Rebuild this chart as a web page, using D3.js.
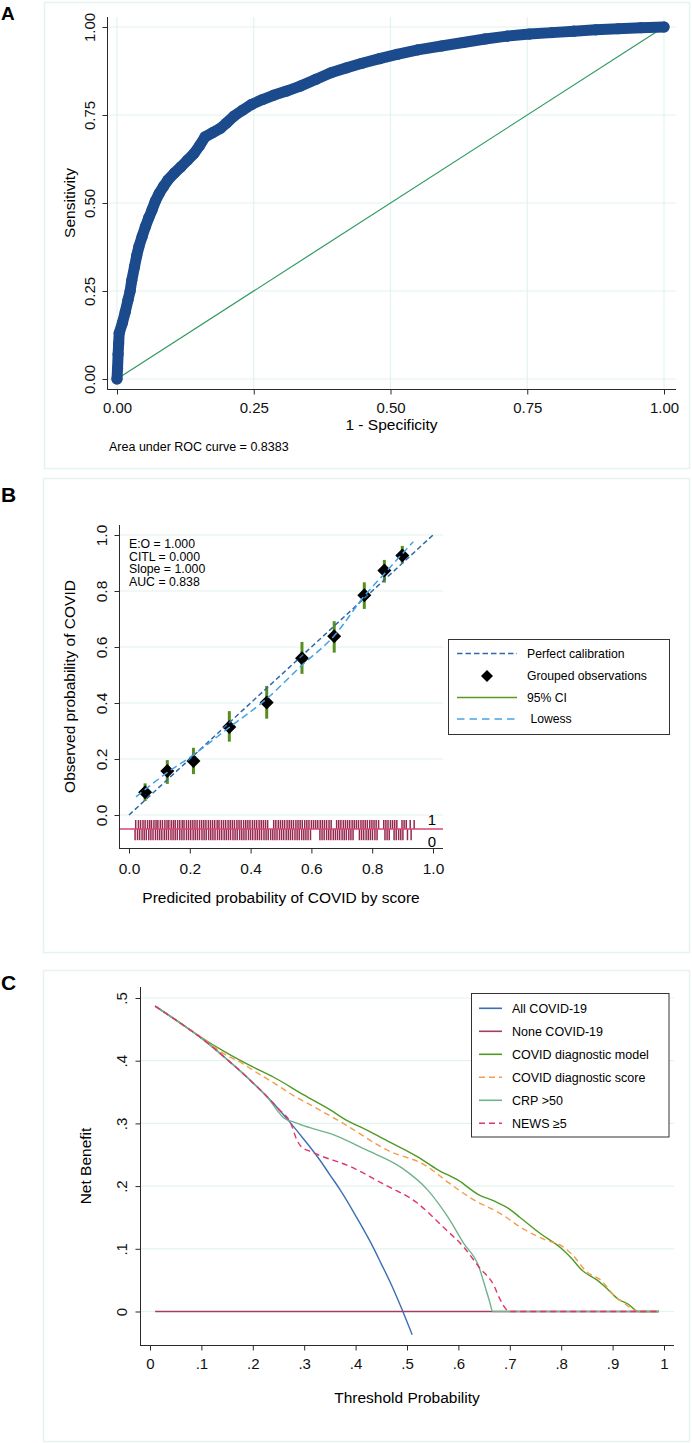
<!DOCTYPE html>
<html><head><meta charset="utf-8">
<script src="https://cdn.jsdelivr.net/npm/d3@7"></script>
<style>
body{margin:0;background:#fff}
svg{display:block;font-family:"Liberation Sans",Arial,Helvetica,sans-serif}
</style>
</head><body>
<svg id="c" width="692" height="1443"></svg>
<script>
// ---------------- DATA ----------------
// Panel A: ROC curve
const rocFPR = [0,0.001,0.002,0.003,0.004,0.010,0.015,0.020,0.024,0.027,0.032,0.036,0.040,0.046,0.052,0.058,0.064,0.070,0.077,0.085,0.093,0.105,0.117,0.129,0.141,0.151,0.161,0.175,0.189,0.200,0.214,0.230,0.246,0.266,0.286,0.310,0.335,0.363,0.391,0.420,0.448,0.480,0.512,0.550,0.593,0.633,0.673,0.713,0.754,0.795,0.835,0.875,0.916,0.958,1.0];
const rocTPR = [0,0.03,0.07,0.10,0.13,0.16,0.19,0.224,0.25,0.28,0.319,0.35,0.376,0.405,0.433,0.458,0.48,0.505,0.527,0.547,0.565,0.585,0.603,0.622,0.641,0.663,0.688,0.700,0.712,0.727,0.747,0.764,0.780,0.794,0.806,0.818,0.832,0.851,0.870,0.884,0.897,0.910,0.922,0.935,0.946,0.956,0.966,0.974,0.980,0.984,0.988,0.992,0.995,0.998,1.0];
const rocTicks = [0,0.25,0.5,0.75,1];
const aucLabel = "Area under ROC curve = 0.8383";

// Panel B: calibration
const calTicks = [0,0.2,0.4,0.6,0.8,1];
const groupPred = [0.053,0.126,0.212,0.330,0.453,0.569,0.675,0.774,0.840,0.899];
const groupObs  = [0.081,0.157,0.193,0.314,0.402,0.560,0.638,0.785,0.873,0.927];
const ciLow     = [0.050,0.111,0.146,0.262,0.344,0.504,0.580,0.736,0.830,0.899];
const ciHigh    = [0.113,0.196,0.240,0.371,0.461,0.618,0.692,0.831,0.911,0.961];
const lowessX   = [0.023,0.126,0.212,0.330,0.453,0.569,0.675,0.774,0.840,0.935];
const lowessY   = [0.065,0.152,0.215,0.313,0.415,0.535,0.640,0.782,0.862,0.976];
const perfectX  = [0,1];
const perfectY  = [0,1];
const calStats  = ["E:O = 1.000","CITL = 0.000","Slope = 1.000","AUC = 0.838"];
const rugOne = [0.022,0.031,0.038,0.046,0.053,0.061,0.068,0.074,0.082,0.089,0.095,0.103,0.110,0.118,0.125,0.131,0.139,0.146,0.152,0.160,0.167,0.175,0.181,0.189,0.196,0.203,0.210,0.217,0.224,0.232,0.239,0.246,0.253,0.261,0.268,0.275,0.282,0.290,0.296,0.304,0.311,0.318,0.326,0.333,0.340,0.347,0.355,0.362,0.369,0.377,0.384,0.391,0.398,0.406,0.413,0.420,0.428,0.435,0.442,0.449,0.456,0.476,0.483,0.491,0.498,0.505,0.512,0.520,0.527,0.534,0.541,0.549,0.556,0.563,0.570,0.578,0.585,0.592,0.600,0.607,0.614,0.621,0.629,0.636,0.643,0.650,0.658,0.665,0.683,0.690,0.697,0.705,0.712,0.719,0.726,0.734,0.741,0.748,0.755,0.763,0.770,0.777,0.784,0.792,0.799,0.806,0.813,0.821,0.838,0.845,0.852,0.860,0.867,0.874,0.881,0.898,0.905,0.912,0.925,0.938];
const rugZero = [0.020,0.028,0.035,0.043,0.050,0.057,0.065,0.072,0.079,0.087,0.094,0.101,0.108,0.116,0.123,0.130,0.138,0.145,0.152,0.159,0.167,0.174,0.181,0.189,0.196,0.203,0.211,0.218,0.225,0.232,0.240,0.247,0.254,0.262,0.269,0.276,0.283,0.291,0.298,0.305,0.313,0.320,0.327,0.334,0.342,0.349,0.356,0.364,0.371,0.378,0.385,0.393,0.400,0.407,0.415,0.422,0.429,0.436,0.444,0.451,0.458,0.466,0.473,0.480,0.487,0.495,0.502,0.509,0.517,0.524,0.531,0.538,0.546,0.553,0.560,0.568,0.575,0.582,0.589,0.597,0.628,0.635,0.642,0.650,0.657,0.664,0.672,0.679,0.686,0.693,0.701,0.708,0.715,0.723,0.730,0.737,0.758,0.765,0.772,0.780,0.787,0.794,0.801,0.809,0.816,0.842,0.849,0.856,0.872,0.879,0.887,0.894,0.901,0.916,0.928];
const calLegend = ["Perfect calibration","Grouped observations","95% CI"," Lowess"];

// Panel C: decision curve
const dcaXTicks = [0,0.1,0.2,0.3,0.4,0.5,0.6,0.7,0.8,0.9,1];
const dcaYTicks = [0,0.1,0.2,0.3,0.4,0.5];
const allX   = [0.01,0.05,0.10,0.15,0.20,0.25,0.27,0.30,0.33,0.35,0.37,0.40,0.43,0.45,0.47,0.49,0.51];
const allY   = [0.487,0.465,0.436,0.402,0.365,0.323,0.304,0.274,0.242,0.218,0.194,0.153,0.109,0.076,0.042,0.004,-0.037];
const noneX  = [0.01,0.99];
const noneY  = [0,0];
const modelX = [0.01,0.05,0.10,0.15,0.20,0.24,0.30,0.35,0.38,0.42,0.46,0.52,0.56,0.60,0.64,0.67,0.70,0.72,0.76,0.80,0.82,0.84,0.87,0.89,0.91,0.93,0.95,0.99];
const modelY = [0.487,0.465,0.437,0.412,0.390,0.374,0.345,0.322,0.306,0.290,0.273,0.247,0.226,0.209,0.186,0.176,0.163,0.150,0.124,0.101,0.085,0.066,0.050,0.036,0.020,0.012,0,0];
const scoreX = [0.01,0.05,0.10,0.15,0.175,0.20,0.24,0.28,0.32,0.38,0.46,0.54,0.58,0.63,0.68,0.73,0.77,0.80,0.82,0.85,0.88,0.90,0.92,0.95,0.99];
const scoreY = [0.487,0.465,0.437,0.408,0.398,0.385,0.365,0.344,0.326,0.298,0.258,0.231,0.206,0.178,0.157,0.130,0.114,0.105,0.092,0.063,0.048,0.028,0.015,0,0];
const crpX   = [0.01,0.05,0.10,0.15,0.20,0.235,0.25,0.26,0.28,0.30,0.36,0.42,0.49,0.54,0.58,0.61,0.64,0.65,0.66,0.667,0.99];
const crpY   = [0.487,0.465,0.436,0.402,0.365,0.335,0.318,0.309,0.302,0.296,0.281,0.258,0.229,0.194,0.150,0.109,0.071,0.045,0.018,0,0];
const newsX  = [0.01,0.05,0.10,0.15,0.20,0.25,0.275,0.285,0.295,0.31,0.33,0.39,0.45,0.52,0.57,0.61,0.64,0.67,0.68,0.70,0.99];
const newsY  = [0.487,0.465,0.436,0.402,0.365,0.323,0.298,0.275,0.262,0.256,0.249,0.231,0.205,0.173,0.135,0.103,0.071,0.040,0.021,0,0];
const dcaNames = ["All COVID-19","None COVID-19","COVID diagnostic model","COVID diagnostic score","CRP >50","NEWS \u22655"];

// ---------------- DRAWING ----------------
const svg = d3.select("#c");
const GRID = "#e3f3ee", FRAME = "#e6f4f0", AXIS = "#2a2a2a";

[[44.5,2.5,645,466],[43.5,478.5,646,474],[43.5,970.5,646,471]].forEach(r=>{
  svg.append("rect").attr("x",r[0]).attr("y",r[1]).attr("width",r[2]).attr("height",r[3])
    .attr("fill","none").attr("stroke",FRAME).attr("stroke-width",1.5);
});
[["A",1,20,19],["B",1,502,21],["C",1,990,21]].forEach(t=>{
  svg.append("text").attr("x",t[1]).attr("y",t[2]).attr("font-size",t[3]).attr("font-weight","bold").text(t[0]);
});

function xAxis(g, scale, ticks, fmt, y, x0, x1, pad, fs){
  g.append("line").attr("x1",x0).attr("x2",x1).attr("y1",y+0.5).attr("y2",y+0.5).attr("stroke",AXIS);
  const ax = g.append("g").attr("transform",`translate(0,${y+0.5})`)
    .call(d3.axisBottom(scale).tickValues(ticks).tickSize(5).tickPadding(pad).tickFormat(fmt));
  ax.select(".domain").remove();
  ax.selectAll("line").attr("stroke",AXIS);
  ax.selectAll("text").attr("font-size",fs).attr("fill","#111");
  ax.attr("font-family",null);
}
function yAxis(g, scale, ticks, fmt, x, y0, y1, off, fs){
  g.append("line").attr("x1",x+0.5).attr("x2",x+0.5).attr("y1",y0).attr("y2",y1).attr("stroke",AXIS);
  const ax = g.append("g").attr("transform",`translate(${x+0.5},0)`)
    .call(d3.axisLeft(scale).tickValues(ticks).tickSize(5).tickFormat(fmt));
  ax.select(".domain").remove();
  ax.selectAll("line").attr("stroke",AXIS);
  ax.selectAll("text").attr("font-size",fs).attr("fill","#111")
    .attr("transform","rotate(-90)").attr("x",0).attr("y",-off).attr("dy",0)
    .attr("text-anchor","middle");
  ax.attr("font-family",null);
}
function hGrid(g, scale, ticks, x0, x1){
  g.selectAll(null).data(ticks).join("line")
    .attr("x1",x0).attr("x2",x1).attr("y1",d=>scale(d)).attr("y2",d=>scale(d))
    .attr("stroke",GRID).attr("stroke-width",1.2);
}

// ===== Panel A =====
{
  const g = svg.append("g");
  const x = d3.scaleLinear([0,1],[117,664]);
  const y = d3.scaleLinear([0,1],[379,27]);
  const L=107, R=676, T=17, B=389;
  hGrid(g, y, rocTicks, L, R);
  g.selectAll(null).data(rocTicks).join("line")
    .attr("x1",d=>x(d)).attr("x2",d=>x(d)).attr("y1",T).attr("y2",B)
    .attr("stroke",GRID).attr("stroke-width",1.2);
  g.append("line").attr("x1",x(0)).attr("y1",y(0)).attr("x2",x(1)).attr("y2",y(1))
    .attr("stroke","#2e9a62").attr("stroke-width",1.2);
  const pts = rocFPR.map((f,i)=>[f,rocTPR[i]]);
  const line = d3.line().x(d=>x(d[0])).y(d=>y(d[1]));
  g.append("path").attr("d",line(pts)).attr("fill","none").attr("stroke","#1b4b8d")
    .attr("stroke-width",11).attr("stroke-linejoin","round").attr("stroke-linecap","round");
  g.selectAll(null).data(pts).join("circle").attr("cx",d=>x(d[0])).attr("cy",d=>y(d[1]))
    .attr("r",5.6).attr("fill","#1b4b8d");
  xAxis(g, x, rocTicks, d3.format(".2f"), B, L, R, 8, 15);
  yAxis(g, y, rocTicks, d3.format(".2f"), L, T, B+0.5, 13, 15);
  g.append("text").attr("x",(L+R)/2).attr("y",430).attr("text-anchor","middle").attr("font-size",15.5).text("1 - Specificity");
  g.append("text").attr("transform",`translate(75,${(T+B)/2}) rotate(-90)`).attr("text-anchor","middle").attr("font-size",15.5).text("Sensitivity");
  g.append("text").attr("x",109).attr("y",450.5).attr("font-size",12.5).text(aucLabel);
}

// ===== Panel B =====
{
  const g = svg.append("g");
  const x = d3.scaleLinear([0,1],[129,433]);
  const y = d3.scaleLinear([0,1],[815,535]);
  const L=119, R=443, T=525, B=848;
  hGrid(g, y, calTicks, L, R);
  const rugBase = -0.05, rugUp = -0.018, rugDown = -0.09;
  g.selectAll(null).data(rugOne).join("line")
    .attr("x1",d=>x(d)).attr("x2",d=>x(d)).attr("y1",y(rugBase)).attr("y2",y(rugUp))
    .attr("stroke","#962850").attr("stroke-width",1.5);
  g.selectAll(null).data(rugZero).join("line")
    .attr("x1",d=>x(d)).attr("x2",d=>x(d)).attr("y1",y(rugBase)).attr("y2",y(rugDown))
    .attr("stroke","#962850").attr("stroke-width",1.5);
  g.append("line").attr("x1",L).attr("x2",R).attr("y1",y(rugBase)).attr("y2",y(rugBase))
    .attr("stroke","#d8456f").attr("stroke-width",1.4);
  g.append("text").attr("x",432).attr("y",825).attr("text-anchor","middle").attr("font-size",15).text("1");
  g.append("text").attr("x",432).attr("y",846.5).attr("text-anchor","middle").attr("font-size",15).text("0");
  g.selectAll(null).data(groupPred).join("line")
    .attr("x1",d=>x(d)).attr("x2",d=>x(d)).attr("y1",(d,i)=>y(ciLow[i])).attr("y2",(d,i)=>y(ciHigh[i]))
    .attr("stroke","#578f1e").attr("stroke-width",3);
  const dia = r=>`M0,${-r}L${r},0L0,${r}L${-r},0Z`;
  g.selectAll(null).data(groupPred).join("path")
    .attr("d",dia(7)).attr("transform",(d,i)=>`translate(${x(d)},${y(groupObs[i])})`).attr("fill","#000");
  const ln = d3.line().x(d=>x(d[0])).y(d=>y(d[1]));
  g.append("path").attr("d",ln(perfectX.map((v,i)=>[v,perfectY[i]]))).attr("fill","none")
    .attr("stroke","#2f69a6").attr("stroke-width",1.5).attr("stroke-dasharray","5,3");
  const lw = d3.line().x(d=>x(d[0])).y(d=>y(d[1])).curve(d3.curveMonotoneX);
  g.append("path").attr("d",lw(lowessX.map((v,i)=>[v,lowessY[i]]))).attr("fill","none")
    .attr("stroke","#45a2e6").attr("stroke-width",1.5).attr("stroke-dasharray","7,4");
  calStats.forEach((s,i)=>g.append("text").attr("x",129).attr("y",547.7+i*12.8).attr("font-size",12.3).text(s));
  xAxis(g, x, calTicks, d3.format(".1f"), B, L, R, 9, 15.5);
  yAxis(g, y, calTicks, d3.format(".1f"), L, T, B+0.5, 13, 15.5);
  g.append("text").attr("x",(L+R)/2).attr("y",903).attr("text-anchor","middle").attr("font-size",15.5).text("Predicited probability of COVID by score");
  g.append("text").attr("transform",`translate(75,${(T+B)/2}) rotate(-90)`).attr("text-anchor","middle").attr("font-size",15.5).text("Observed probability of COVID");
  const lg = g.append("g");
  lg.append("rect").attr("x",448.5).attr("y",639.5).attr("width",221).attr("height",95).attr("fill","#fff").attr("stroke","#333");
  const ly = [653.5,676,697.5,719];
  lg.append("line").attr("x1",457).attr("x2",517).attr("y1",ly[0]).attr("y2",ly[0]).attr("stroke","#2f69a6").attr("stroke-width",1.5).attr("stroke-dasharray","5.5,3");
  lg.append("path").attr("d",dia(6)).attr("transform",`translate(487,${ly[1]})`).attr("fill","#000");
  lg.append("line").attr("x1",457).attr("x2",517).attr("y1",ly[2]).attr("y2",ly[2]).attr("stroke","#5a9a22").attr("stroke-width",1.3);
  lg.append("line").attr("x1",457).attr("x2",517).attr("y1",ly[3]).attr("y2",ly[3]).attr("stroke","#45a2e6").attr("stroke-width",1.5).attr("stroke-dasharray","7.5,5");
  calLegend.forEach((t,i)=>lg.append("text").attr("x",527).attr("y",ly[i]+4.3).attr("font-size",12.2).style("white-space","pre").text(t));
}

// ===== Panel C =====
{
  const g = svg.append("g");
  const x = d3.scaleLinear([0,1],[150,664]);
  const y = d3.scaleLinear([0,0.5],[1311.5,998]);
  const L=140, R=674, T=987, B=1345;
  hGrid(g, y, dcaYTicks, L, R);
  const ln = d3.line().x(d=>x(d[0])).y(d=>y(d[1])).curve(d3.curveMonotoneX);
  const series = [
    {x:allX,y:allY,c:"#3a6fb4",dash:null},
    {x:noneX,y:noneY,c:"#a33d66",dash:null},
    {x:modelX,y:modelY,c:"#4f9a24",dash:null},
    {x:scoreX,y:scoreY,c:"#f59c4a",dash:"6,4"},
    {x:crpX,y:crpY,c:"#6fb28d",dash:null},
    {x:newsX,y:newsY,c:"#e0356c",dash:"6,4"}
  ];
  series.forEach(s=>{
    g.append("path").attr("d",ln(s.x.map((v,i)=>[v,s.y[i]]))).attr("fill","none")
      .attr("stroke",s.c).attr("stroke-width",1.4).attr("stroke-dasharray",s.dash);
  });
  const fmtC = d=> d===0?"0":(d===1?"1":d3.format(".1f")(d).replace(/^0/,""));
  xAxis(g, x, dcaXTicks, fmtC, B, L, R, 8, 15);
  yAxis(g, y, dcaYTicks, fmtC, L, T, B+0.5, 13.3, 15);
  g.append("text").attr("x",(L+R)/2).attr("y",1403).attr("text-anchor","middle").attr("font-size",15.5).text("Threshold Probability");
  g.append("text").attr("transform",`translate(91,${(T+B)/2}) rotate(-90)`).attr("text-anchor","middle").attr("font-size",15.5).text("Net Benefit");
  const lg = g.append("g");
  lg.append("rect").attr("x",471.5).attr("y",993.5).attr("width",197.5).attr("height",143.5).attr("fill","#fff").attr("stroke","#333");
  series.forEach((s,i)=>{
    const yy = 1008.3 + i*23;
    lg.append("line").attr("x1",479).attr("x2",502).attr("y1",yy).attr("y2",yy)
      .attr("stroke",s.c).attr("stroke-width",1.6).attr("stroke-dasharray",s.dash);
    lg.append("text").attr("x",512).attr("y",yy+4.5).attr("font-size",12.5).text(dcaNames[i]);
  });
}
</script>
</body></html>
